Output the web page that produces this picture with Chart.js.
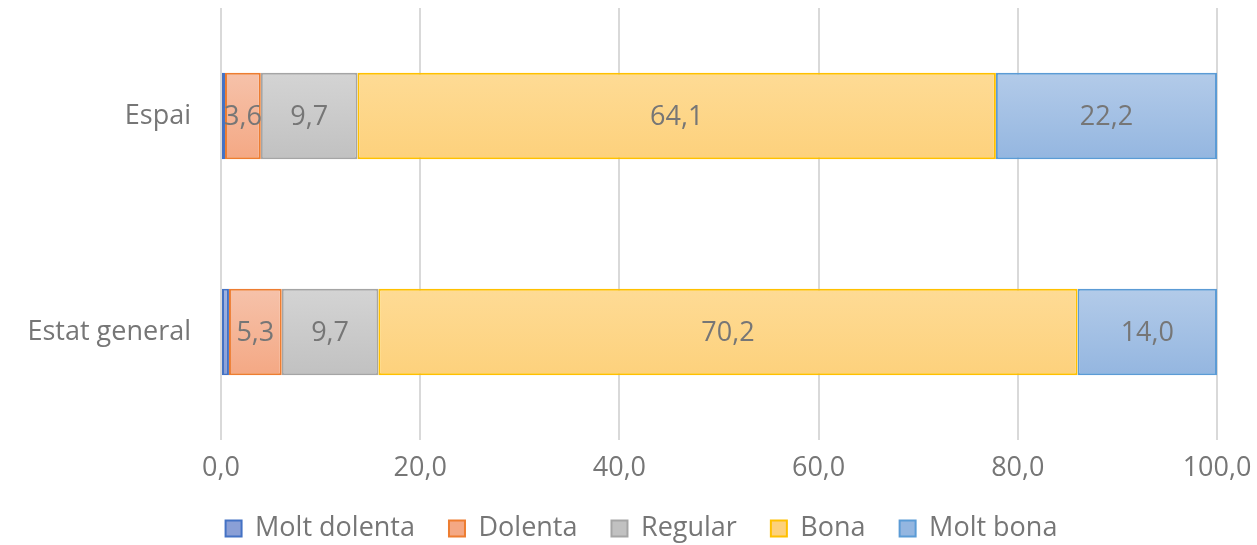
<!DOCTYPE html>
<html>
<head>
<meta charset="utf-8">
<script src="https://cdn.jsdelivr.net/npm/chart.js@4/dist/chart.umd.min.js"></script>
<style>
  html, body { margin: 0; padding: 0; background: #fff; }
  #wrap { width: 1257px; height: 545px; }
</style>
</head>
<body>
<div id="wrap"><canvas id="chart" width="1257" height="545"></canvas></div>
<script>
// data
const categories = ["Espai", "Estat general"];
const seriesNames = ["Molt dolenta", "Dolenta", "Regular", "Bona", "Molt bona"];
const moltDolenta = [0.4, 0.8];
const dolenta = [3.6, 5.3];
const regular = [9.7, 9.7];
const bona = [64.1, 70.2];
const moltBona = [22.2, 14.0];
const xTicks = [0, 20, 40, 60, 80, 100];

// colours: [top, bottom, border]
const colours = [
  ["#a0b2e0", "#8a9fd6", "#4472c4"],
  ["#f6c2aa", "#f4a884", "#ed7d31"],
  ["#d4d4d4", "#c1c1c1", "#a5a5a5"],
  ["#fedb95", "#fdd17c", "#ffc000"],
  ["#b3cbe9", "#94b6e0", "#5b9bd5"]
];

const txtColor = "#767676";
const fontFam = "'Open Sans', sans-serif";
const fontSize = 27;

// vertical gradient per bar
function barGradient(i) {
  return function(ctx) {
    const chart = ctx.chart;
    const y = chart.scales.y;
    if (!y || ctx.dataIndex === undefined) return colours[i][1];
    const center = y.getPixelForValue(ctx.dataIndex);
    const band = Math.abs(y.getPixelForValue(1) - y.getPixelForValue(0));
    const half = band * 0.4 / 2;
    const g = chart.ctx.createLinearGradient(0, center - half, 0, center + half);
    g.addColorStop(0, colours[i][0]);
    g.addColorStop(1, colours[i][1]);
    return g;
  };
}

const allSeries = [moltDolenta, dolenta, regular, bona, moltBona];

// value labels in the middle of bars
const valueLabels = {
  id: "valueLabels",
  afterDatasetsDraw(chart) {
    const c = chart.ctx;
    c.save();
    c.font = fontSize + "px " + fontFam;
    c.fillStyle = txtColor;
    c.textAlign = "center";
    c.textBaseline = "middle";
    chart.data.datasets.forEach((ds, i) => {
      if (i === 0) return; // too thin to label
      chart.getDatasetMeta(i).data.forEach((bar, j) => {
        const v = ds.data[j];
        c.fillText(v.toFixed(1).replace(".", ","), (bar.x + bar.base) / 2, bar.y + 1);
      });
    });
    c.restore();
  }
};

// nudge the legend a bit to the right, like the original
const legendShift = {
  id: "legendShift",
  afterLayout(chart) {
    chart.legend.left += 33;
    chart.legend.right += 33;
  }
};

new Chart(document.getElementById("chart"), {
  type: "bar",
  data: {
    labels: categories,
    datasets: seriesNames.map((name, i) => ({
      label: name,
      data: allSeries[i],
      backgroundColor: barGradient(i),
      borderColor: colours[i][2],
      borderWidth: 2,
      borderSkipped: false,
      barPercentage: 0.4,
      categoryPercentage: 1
    }))
  },
  options: {
    indexAxis: "y",
    responsive: false,
    animation: false,
    layout: { padding: { top: 8, right: 40, bottom: -7 } },
    scales: {
      x: {
        stacked: true,
        min: 0,
        max: 100,
        afterBuildTicks(scale) {
          scale.ticks = xTicks.map(v => ({ value: v }));
        },
        afterFit(scale) {
          scale.paddingLeft = 0;
          scale.paddingRight = 0;
          scale.height = 41;
        },
        ticks: {
          color: txtColor,
          font: { size: fontSize, family: fontFam },
          padding: 12,
          callback: v => v.toFixed(1).replace(".", ",")
        },
        grid: { color: "#d9d9d9", lineWidth: 2, drawTicks: false },
        border: { display: false }
      },
      y: {
        stacked: true,
        afterFit(scale) {
          scale.width = 221;
          scale.paddingTop = 0;
          scale.paddingBottom = 0;
        },
        ticks: {
          color: txtColor,
          font: { size: fontSize, family: fontFam },
          padding: 30
        },
        grid: { display: false, drawTicks: false },
        border: { display: false }
      }
    },
    plugins: {
      legend: {
        position: "bottom",
        labels: {
          color: txtColor,
          font: { size: fontSize, family: fontFam },
          boxWidth: 16,
          boxHeight: 16,
          padding: 34,
          generateLabels(chart) {
            return chart.data.datasets.map((ds, i) => ({
              text: ds.label,
              fillStyle: colours[i][1],
              strokeStyle: colours[i][2],
              lineWidth: 2,
              fontColor: txtColor,
              datasetIndex: i
            }));
          }
        }
      },
      tooltip: { enabled: false }
    }
  },
  plugins: [valueLabels, legendShift]
});
</script>
</body>
</html>
